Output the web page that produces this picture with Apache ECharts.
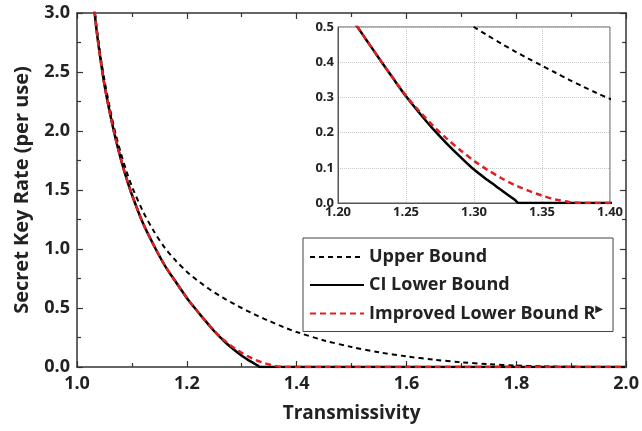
<!DOCTYPE html>
<html>
<head>
<meta charset="utf-8">
<script src="https://cdn.jsdelivr.net/npm/echarts@6/dist/echarts.min.js"></script>
<style>
  html, body { margin: 0; background: #fff; }
  #chart { width: 642px; height: 431px; }
</style>
</head>
<body>
<div id="chart"></div>
<script>
// values
var transmissivity = [1.025, 1.03, 1.035, 1.04, 1.045, 1.05, 1.06, 1.07, 1.08, 1.09, 1.10,
  1.12, 1.14, 1.16, 1.18, 1.20, 1.21, 1.22, 1.23, 1.24, 1.25, 1.26, 1.27, 1.28, 1.29, 1.30,
  1.31, 1.32, 1.33, 1.333, 1.34, 1.35, 1.36, 1.37, 1.38, 1.39, 1.40,
  1.45, 1.50, 1.55, 1.60, 1.65, 1.70, 1.75, 1.80, 1.85, 1.90, 1.95, 2.00]

var upperBound = [3.38, 3.12, 2.91, 2.73, 2.57, 2.43, 2.19, 1.98, 1.81, 1.66, 1.53,
  1.32, 1.15, 1.01, 0.90, 0.808, 0.768, 0.731, 0.696, 0.663, 0.632, 0.603, 0.576, 0.55, 0.525, 0.50,
  0.476, 0.453, 0.431, 0.425, 0.41, 0.39, 0.37, 0.35, 0.331, 0.313, 0.296,
  0.225, 0.17, 0.125, 0.09, 0.062, 0.04, 0.024, 0.012, 0.005, 0.0015, 0, 0]

var ciLowerBound = [3.36, 3.10, 2.88, 2.70, 2.54, 2.39, 2.15, 1.94, 1.76, 1.60, 1.46,
  1.22, 1.03, 0.86, 0.72, 0.585, 0.525, 0.468, 0.412, 0.357, 0.303, 0.255, 0.21, 0.169, 0.131, 0.095,
  0.065, 0.037, 0.009, 0, 0, 0, 0, 0, 0, 0, 0,
  0, 0, 0, 0, 0, 0, 0, 0, 0, 0, 0, 0]

var improvedLowerBound = [3.36, 3.10, 2.88, 2.70, 2.54, 2.39, 2.15, 1.94, 1.76, 1.60, 1.46,
  1.22, 1.03, 0.86, 0.72, 0.585, 0.525, 0.468, 0.412, 0.357, 0.305, 0.26, 0.219, 0.183, 0.15, 0.12,
  0.094, 0.071, 0.051, 0.046, 0.035, 0.021, 0.01, 0.003, 0, 0, 0,
  0, 0, 0, 0, 0, 0, 0, 0, 0, 0, 0, 0]

var seriesNames = ['Upper Bound', 'CI Lower Bound', 'Improved Lower Bound R']

var mainX = { min: 1.0, max: 2.0, step: 0.2 }
var mainY = { min: 0, max: 3.0, step: 0.5 }
var insetX = { min: 1.20, max: 1.40, step: 0.05 }
var insetY = { min: 0, max: 0.5, step: 0.1 }

var font = 'Open Sans'

function pairs(ys) {
  return transmissivity.map(function (x, i) { return [x, ys[i]] })
}

var lineStyles = [
  { color: '#000', width: 2, type: [5, 4] },
  { color: '#000', width: 2.5, type: 'solid' },
  { color: '#e02020', width: 2.5, type: [6, 4] },
]
var values = [upperBound, ciLowerBound, improvedLowerBound]

function mainTicks(extra) {
  return Object.assign({
    axisLine: { show: true, onZero: false, lineStyle: { color: '#333', width: 1.5 } },
    axisTick: { show: true, inside: true, length: 6, lineStyle: { color: '#333', width: 1.2 } },
    minorTick: { show: true, splitNumber: 2, length: 4, lineStyle: { color: '#333', width: 1.2 } },
    splitLine: { show: false },
  }, extra)
}

var chart = echarts.init(document.getElementById('chart'), null, { renderer: 'canvas' })

var series = []
// main plot
values.forEach(function (v, i) {
  series.push({
    name: seriesNames[i], type: 'line', xAxisIndex: 0, yAxisIndex: 0,
    data: pairs(v), showSymbol: false, symbol: 'none',
    smooth: 0.3, lineStyle: lineStyles[i], itemStyle: { color: lineStyles[i].color }, z: 3 + i,
  })
})
// inset
values.forEach(function (v, i) {
  series.push({
    name: seriesNames[i], type: 'line', xAxisIndex: 2, yAxisIndex: 2,
    data: pairs(v), showSymbol: false, symbol: 'none',
    smooth: 0.3, lineStyle: lineStyles[i], itemStyle: { color: lineStyles[i].color }, z: 3 + i,
  })
})

var option = {
  animation: false,
  backgroundColor: '#fff',
  textStyle: { fontFamily: font },
  grid: [
    { left: 77, right: 13, top: 13, bottom: 64 },
    { left: 338, top: 27, width: 272, height: 176, show: true,
      backgroundColor: '#fff', borderColor: '#555', borderWidth: 1 },
  ],
  legend: {
    data: seriesNames,
    orient: 'vertical',
    left: 303, top: 238,
    padding: [10, 10, 9, 6],
    itemGap: 10,
    itemWidth: 54, itemHeight: 14,
    borderColor: '#444', borderWidth: 1,
    backgroundColor: '#fff',
    selectedMode: false,
    itemStyle: { opacity: 0, borderWidth: 0 },
    textStyle: {
      fontFamily: font, fontWeight: 'bold', fontSize: 18, color: '#222',
      rich: {
        t: { fontFamily: font, fontWeight: 'bold', fontSize: 18, color: '#222' },
        s: { fontFamily: 'DejaVu Sans', fontSize: 10, color: '#222', padding: [0, 0, 9, 0] },
      },
    },
    formatter: function (name) {
      return name === seriesNames[2] ? '{t|' + name + '}{s|▶}' : name
    },
  },
  xAxis: [
    mainTicks({
      type: 'value', gridIndex: 0, min: mainX.min, max: mainX.max, interval: mainX.step,
      name: 'Transmissivity', nameLocation: 'middle', nameGap: 37,
      nameTextStyle: { fontFamily: font, fontWeight: 'bold', fontSize: 19, color: '#222' },
      axisLabel: { margin: 8, fontFamily: font, fontWeight: 'bold', fontSize: 18, color: '#222',
        formatter: function (v) { return v.toFixed(1) } },
    }),
    mainTicks({
      type: 'value', gridIndex: 0, position: 'top', min: mainX.min, max: mainX.max,
      interval: mainX.step, axisLabel: { show: false },
    }),
    {
      type: 'value', gridIndex: 1, min: insetX.min, max: insetX.max, interval: insetX.step,
      axisLine: { show: true, lineStyle: { color: '#555', width: 1 } },
      axisTick: { show: false },
      splitLine: { show: true, lineStyle: { color: '#c8c8c8', type: 'dotted', width: 1 } },
      axisLabel: { margin: 3, fontFamily: font, fontWeight: 'bold', fontSize: 13, color: '#222',
        formatter: function (v) { return v.toFixed(2) } },
    },
  ],
  yAxis: [
    mainTicks({
      type: 'value', gridIndex: 0, min: mainY.min, max: mainY.max, interval: mainY.step,
      name: 'Secret Key Rate (per use)', nameLocation: 'middle', nameGap: 45,
      nameTextStyle: { fontFamily: font, fontWeight: 'bold', fontSize: 20, color: '#222' },
      axisLabel: { margin: 7, fontFamily: font, fontWeight: 'bold', fontSize: 18, color: '#222',
        formatter: function (v) { return v.toFixed(1) } },
    }),
    mainTicks({
      type: 'value', gridIndex: 0, position: 'right', min: mainY.min, max: mainY.max,
      interval: mainY.step, axisLabel: { show: false },
    }),
    {
      type: 'value', gridIndex: 1, min: insetY.min, max: insetY.max, interval: insetY.step,
      axisLine: { show: true, lineStyle: { color: '#555', width: 1 } },
      axisTick: { show: false },
      splitLine: { show: true, lineStyle: { color: '#c8c8c8', type: 'dotted', width: 1 } },
      axisLabel: { margin: 4, fontFamily: font, fontWeight: 'bold', fontSize: 13, color: '#222',
        formatter: function (v) { return v.toFixed(1) } },
    },
  ],
  series: series,
}

chart.setOption(option)
</script>
</body>
</html>
